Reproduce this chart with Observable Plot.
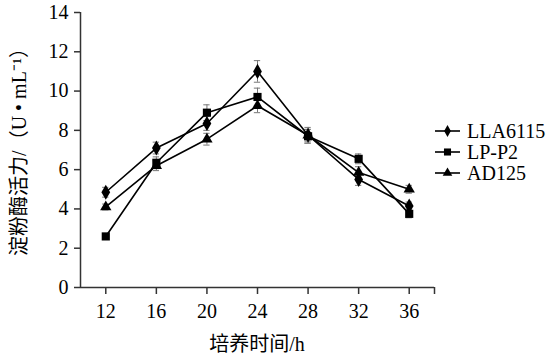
<!DOCTYPE html>
<html>
<head>
<meta charset="utf-8">
<script src="https://cdn.jsdelivr.net/npm/d3@7"></script>
<script src="https://cdn.jsdelivr.net/npm/@observablehq/plot@0.6"></script>
<style>
  html, body { margin: 0; padding: 0; background: #fff; }
  text { font-family: "Liberation Serif", "Noto Sans CJK SC", serif !important; }
</style>
</head>
<body>
<div id="chart"></div>
<script>
const hours = [12, 16, 20, 24, 28, 32, 36];
const seriesNames = ["LLA6115", "LP-P2", "AD125"];
const seriesSymbols = ["diamond", "square", "triangle"];
const lla6115 = [4.85, 7.1, 8.35, 11.0, 7.75, 5.5, 4.15];
const lla6115Err = [0.25, 0.3, 0.35, 0.55, 0.4, 0.3, 0.2];
const lpp2 = [2.6, 6.35, 8.9, 9.7, 7.7, 6.55, 3.75];
const lpp2Err = [0.1, 0.3, 0.4, 0.45, 0.35, 0.25, 0.2];
const ad125 = [4.1, 6.2, 7.55, 9.25, 7.75, 5.85, 5.0];
const ad125Err = [0.15, 0.25, 0.3, 0.35, 0.3, 0.3, 0.2];
const yTicks = [0, 2, 4, 6, 8, 10, 12, 14];
const xLabel = "培养时间/h";
const yLabel = "淀粉酶活力/（U • mL⁻¹）";

const FONT = "Liberation Serif, Noto Sans CJK SC, serif";
const symbolRadius = { diamond: 4.6, square: 4.6, triangle: 4.2 };
const values = [lla6115, lpp2, ad125];
const errs = [lla6115Err, lpp2Err, ad125Err];
const data = [];
seriesNames.forEach((s, i) => hours.forEach((h, j) => data.push({
  series: s, symbol: seriesSymbols[i], hour: h, value: values[i][j], err: errs[i][j]
})));

const capHalf = 0.25;
const plot = Plot.plot({
  width: 555,
  height: 359,
  marginLeft: 80,
  marginRight: 121,
  marginTop: 12,
  marginBottom: 72,
  style: { fontFamily: FONT, fontSize: "20px", color: "#000", background: "#fff" },
  x: { type: "linear", domain: [10, 38] },
  y: { domain: [0, 14] },
  r: { type: "identity" },
  symbol: { domain: seriesNames, range: seriesSymbols },
  marks: [
    Plot.ruleX([10], { stroke: "#333", strokeWidth: 1.5 }),
    Plot.ruleY([0], { stroke: "#333", strokeWidth: 1.5 }),
    Plot.axisY({ ticks: yTicks, tickSize: 6, tickPadding: 6, label: null, fontSize: 20, fontFamily: FONT, stroke: "#333", strokeWidth: 1.5 }),
    Plot.axisX({ ticks: [...hours, 38], tickFormat: d => d === 38 ? "" : String(d), tickSize: 7, tickPadding: 9, label: null, fontSize: 20, fontFamily: FONT, stroke: "#333", strokeWidth: 1.5 }),
    Plot.ruleX(data, { x: "hour", y1: d => d.value - d.err, y2: d => d.value + d.err, stroke: "#777", strokeWidth: 1 }),
    Plot.ruleY(data, { y: d => d.value + d.err, x1: d => d.hour - capHalf, x2: d => d.hour + capHalf, stroke: "#777", strokeWidth: 1 }),
    Plot.ruleY(data, { y: d => d.value - d.err, x1: d => d.hour - capHalf, x2: d => d.hour + capHalf, stroke: "#777", strokeWidth: 1 }),
    Plot.line(data, { x: "hour", y: "value", z: "series", stroke: "#000", strokeWidth: 1.6 }),
    Plot.dot(data, { x: "hour", y: "value", symbol: "series", r: d => symbolRadius[d.symbol], fill: "#000", stroke: "none" })
  ]
});

const svg = d3.select(plot);
svg.insert("style", ":first-child")
  .text('text { font-family: "Liberation Serif", "Noto Sans CJK SC", serif !important; }');

// axis titles
svg.append("text")
  .attr("x", 257).attr("y", 351)
  .attr("text-anchor", "middle")
  .attr("font-size", 20)
  .attr("fill", "#000")
  .text(xLabel);
svg.append("text")
  .attr("transform", "translate(26,147) rotate(-90)")
  .attr("text-anchor", "middle")
  .attr("font-size", 20)
  .attr("fill", "#000")
  .text(yLabel);

// legend
const legendSymbols = { diamond: d3.symbolDiamond, square: d3.symbolSquare, triangle: d3.symbolTriangle };
const lg = svg.append("g").attr("text-anchor", "start");
seriesNames.forEach((s, i) => {
  const cy = 131 + i * 21;
  lg.append("line").attr("x1", 435).attr("x2", 460).attr("y1", cy).attr("y2", cy)
    .attr("stroke", "#000").attr("stroke-width", 1.6);
  lg.append("path")
    .attr("d", d3.symbol(legendSymbols[seriesSymbols[i]], i === 1 ? 50 : 40)())
    .attr("transform", `translate(447.5,${cy})`)
    .attr("fill", "#000");
  lg.append("text").attr("x", 467).attr("y", cy).attr("dy", "0.35em")
    .attr("text-anchor", "start")
    .attr("font-size", 20).attr("fill", "#000").text(s);
});

svg.attr("font-family", FONT);
svg.selectAll("text").attr("font-family", FONT).style("font-family", FONT);

document.getElementById("chart").appendChild(plot);
</script>
</body>
</html>
